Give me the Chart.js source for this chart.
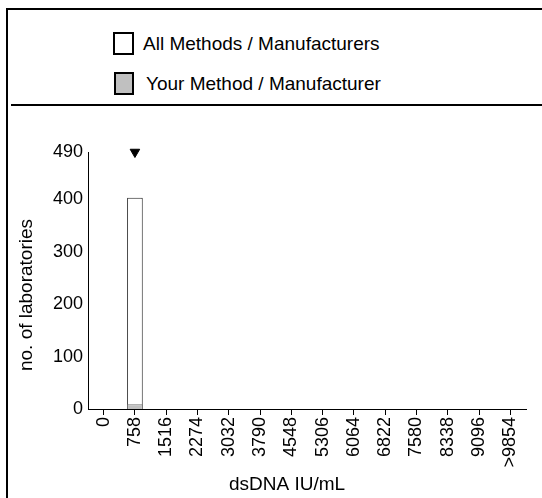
<!DOCTYPE html>
<html>
<head>
<meta charset="utf-8">
<script src="https://cdn.jsdelivr.net/npm/chart.js@4"></script>
<style>
  html, body { margin: 0; padding: 0; background: #fff; }
  body { width: 542px; height: 498px; position: relative; overflow: hidden; font-family: "Liberation Sans", Arial, sans-serif; }
  .frame { position: absolute; left: 6px; top: 8px; width: 600px; height: 600px; border: 2px solid #000; }
  .sep { position: absolute; left: 11px; top: 104px; width: 540px; height: 2px; background: #000; }
  .leg { position: absolute; font-size: 19px; line-height: 23px; color: #000; }
  .leg span.box { position: absolute; left: 0; top: 0; height: 19px; border: 2px solid #000; }
  .leg span.txt { position: absolute; top: 0; white-space: nowrap; }
  #wrap { position: absolute; left: 0; top: 106px; width: 542px; height: 392px; }
</style>
</head>
<body>
<div class="frame"></div>
<div class="sep"></div>
<div id="legend"></div>
<div id="wrap"><canvas id="histo"></canvas></div>
<script>
const categories = ['0', '758', '1516', '2274', '3032', '3790', '4548', '5306', '6064', '6822', '7580', '8338', '9096', '>9854'];
const allMethods = [0, 403, 0, 0, 0, 0, 0, 0, 0, 0, 0, 0, 0, 0];
const yourMethod = [0, 9, 0, 0, 0, 0, 0, 0, 0, 0, 0, 0, 0, 0];
const yourResult = [null, 490, null, null, null, null, null, null, null, null, null, null, null, null];
const yTicks = [0, 100, 200, 300, 400, 490];
const seriesNames = ['All Methods / Manufacturers', 'Your Method / Manufacturer'];
const seriesColors = ['#ffffff', '#c0c0c0'];
const xTitle = 'dsDNA IU/mL';
const yTitle = 'no. of laboratories';

const FONT = '"Liberation Sans", Arial, sans-serif';

// legend boxes above the separator
const legend = document.getElementById('legend');
seriesNames.forEach((name, i) => {
  const row = document.createElement('div');
  row.className = 'leg';
  row.style.top = (32 + i * 40) + 'px';
  row.style.left = (113 + i) + 'px';
  row.innerHTML = '<span class="box"></span><span class="txt"></span>';
  const box = row.querySelector('.box');
  box.style.background = seriesColors[i];
  box.style.width = (17 - i) + 'px';
  const txt = row.querySelector('.txt');
  txt.style.left = (30 + i * 2) + 'px';
  txt.textContent = name;
  legend.appendChild(row);
});

const axisTitles = {
  id: 'axisTitles',
  afterDraw(chart) {
    const c = chart.ctx;
    c.save();
    c.fillStyle = '#000';
    c.font = '19px ' + FONT;
    c.textAlign = 'center';
    c.textBaseline = 'middle';
    c.fillText(xTitle, 287, 379);
    c.translate(27, 189);
    c.rotate(-Math.PI / 2);
    c.fillText(yTitle, 0, 0);
    c.restore();
  }
};

const ctx = document.getElementById('histo');
new Chart(ctx, {
  type: 'bar',
  data: {
    labels: categories,
    datasets: [{
      type: 'line',
      data: yourResult,
      showLine: false,
      pointStyle: 'triangle',
      rotation: 180,
      radius: 5.5,
      pointBackgroundColor: '#000',
      pointBorderColor: '#000',
      clip: false,
      order: 0
    }, {
      label: seriesNames[1],
      data: yourMethod,
      backgroundColor: seriesColors[1],
      borderColor: '#777',
      borderWidth: 1,
      order: 1
    }, {
      label: seriesNames[0],
      data: allMethods,
      backgroundColor: seriesColors[0],
      borderColor: '#222',
      borderWidth: 1,
      order: 2
    }]
  },
  options: {
    responsive: true,
    maintainAspectRatio: false,
    animation: false,
    events: [],
    grouped: false,
    barPercentage: 0.5,
    categoryPercentage: 1,
    layout: { padding: { top: 46, right: 16, left: 0, bottom: 0 } },
    plugins: { legend: { display: false }, tooltip: { enabled: false } },
    scales: {
      x: {
        offset: true,
        grid: { display: true, drawOnChartArea: false, offset: false, tickLength: 6, color: '#000' },
        border: { color: '#000', width: 1 },
        ticks: { color: '#000', font: { size: 18, family: FONT }, minRotation: 90, maxRotation: 90, autoSkip: false, padding: 2 },
        afterFit: (s) => { s.height = 89; }
      },
      y: {
        min: 0,
        max: 490,
        afterBuildTicks: (s) => { s.ticks = yTicks.map(v => ({ value: v })); },
        grid: { display: false, drawTicks: false },
        border: { color: '#000', width: 1 },
        ticks: { color: '#000', font: { size: 18, family: FONT }, padding: 5 },
        afterFit: (s) => { s.width = 88; }
      }
    }
  },
  plugins: [axisTitles]
});
</script>
</body>
</html>
